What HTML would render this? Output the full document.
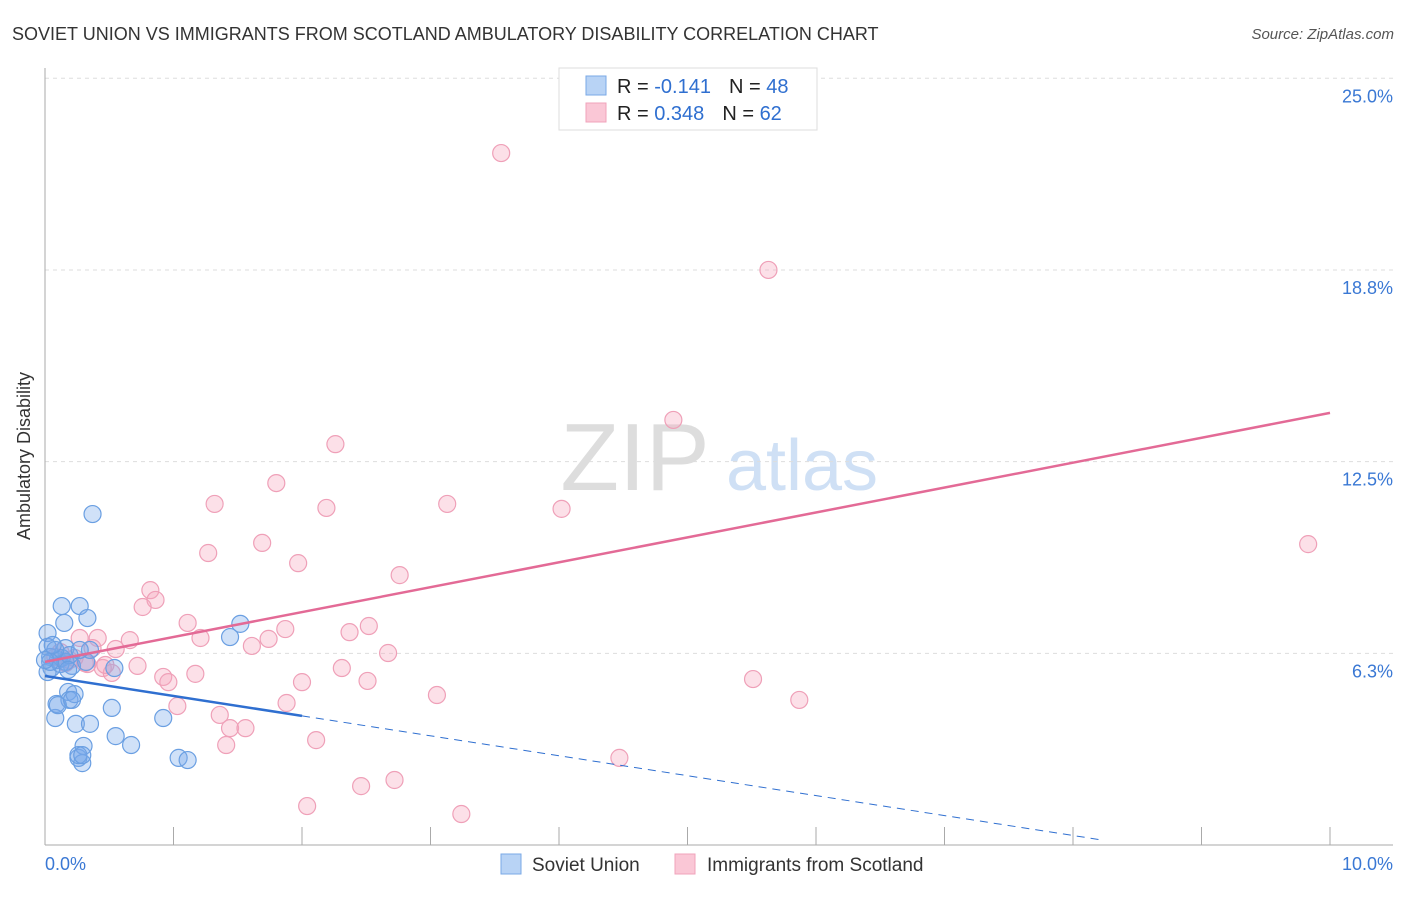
<!DOCTYPE html>
<html><head><meta charset="utf-8"><style>
body{margin:0;background:#fff;font-family:"Liberation Sans",sans-serif}
svg text{font-family:"Liberation Sans",sans-serif}
</style></head><body>
<svg id="c" width="1406" height="892" xmlns="http://www.w3.org/2000/svg">
<text x="12" y="40" font-size="18" fill="#333">SOVIET UNION VS IMMIGRANTS FROM SCOTLAND AMBULATORY DISABILITY CORRELATION CHART</text>
<text x="1394" y="39" font-size="15" fill="#555" text-anchor="end" font-style="italic">Source: ZipAtlas.com</text>
<text x="30" y="456" font-size="18" fill="#333" text-anchor="middle" transform="rotate(-90 30 456)">Ambulatory Disability</text>
<g><text x="635" y="490" font-size="96" fill="#ddd" text-anchor="middle" font-family="Liberation Serif">ZIP</text><text x="802" y="490" font-size="72" fill="#cfe0f5" text-anchor="middle">atlas</text></g>
<g id="grid"></g><g id="axes"></g><g id="pts"></g><g id="trend"></g>
<g>
<rect x="559" y="68" width="258" height="62" fill="#fff" stroke="#ddd"/>
<rect x="586" y="76" width="20" height="19" fill="#b8d3f5" stroke="#7aa8e6"/>
<rect x="586" y="103" width="20" height="19" fill="#fac7d6" stroke="#f0a3bb"/>
<text x="617" y="93" font-size="20" fill="#222">R = <tspan fill="#2f6fd0">-0.141</tspan><tspan dx="18">N = </tspan><tspan fill="#2f6fd0">48</tspan></text>
<text x="617" y="120" font-size="20" fill="#222">R = <tspan fill="#2f6fd0">0.348</tspan><tspan dx="18">N = </tspan><tspan fill="#2f6fd0">62</tspan></text>
</g>
<g>
<rect x="501" y="854" width="20" height="20" fill="#b8d3f5" stroke="#7aa8e6"/>
<text x="532" y="871" font-size="19" fill="#333">Soviet Union</text>
<rect x="675" y="854" width="20" height="20" fill="#fac7d6" stroke="#f0a3bb"/>
<text x="707" y="871" font-size="19" fill="#333">Immigrants from Scotland</text>
</g>
</svg>
<script>
const yTicks=[25,18.75,12.5,6.25];
const yTickLabels=["25.0%","18.8%","12.5%","6.3%"];
const xTicks=[0,1,2,3,4,5,6,7,8,9,10];
const blueX=[0.02,0.02,0.04,0.05,0.02,0.08,0.09,0.13,0.15,0.16,0.18,0.19,0.21,0.23,0.24,0.26,0.27,0.29,0.30,0.32,0.33,0.35,0.37,0.52,0.54,0.55,0.67,0.92,1.04,1.11,1.44,1.52,0.10,0.12,0.13,0.16,0.19,0.08,0.04,0.00,0.26,0.29,0.10,0.35,0.18,0.21,0.27,0.06];
const blueY=[6.91,6.46,6.13,5.77,5.64,4.14,4.60,7.79,7.24,6.42,4.99,4.73,5.84,4.92,3.95,2.84,7.79,2.67,3.23,5.97,7.40,3.95,10.79,4.47,5.77,3.55,3.26,4.14,2.84,2.77,6.78,7.21,6.03,5.90,6.10,5.97,6.19,6.36,5.97,6.03,2.93,2.93,4.56,6.36,5.71,4.73,6.36,6.52];
const pinkX=[3.55,5.63,4.89,2.26,1.80,1.32,2.19,3.13,4.02,9.83,1.69,1.27,1.97,2.76,0.82,0.86,0.76,1.11,2.52,1.87,2.37,1.21,0.66,0.41,0.27,1.61,1.74,2.67,0.55,0.37,0.12,0.19,0.31,0.72,0.45,0.52,2.31,1.17,0.92,0.96,2.00,2.51,5.51,3.05,5.87,1.03,1.88,1.36,1.44,1.56,1.41,2.11,4.47,2.72,2.46,2.04,3.24,0.16,0.23,0.33,0.47,0.08];
const pinkY=[22.56,18.75,13.86,13.07,11.80,11.12,10.99,11.12,10.96,9.81,9.85,9.52,9.19,8.80,8.31,7.99,7.76,7.24,7.14,7.04,6.94,6.75,6.68,6.75,6.75,6.49,6.72,6.26,6.39,6.42,6.29,6.03,5.93,5.84,5.77,5.61,5.77,5.58,5.48,5.31,5.31,5.35,5.41,4.89,4.73,4.53,4.63,4.24,3.81,3.81,3.26,3.42,2.84,2.12,1.92,1.27,1.01,5.93,6.10,5.90,5.87,6.13];
const blueTrend=[5.51,-0.65];
const pinkTrend=[5.97,0.812];
const X=v=>45+v*128.5, Y=v=>845-v*30.67;
const NS="http://www.w3.org/2000/svg";
function mk(t,a,p){const e=document.createElementNS(NS,t);for(const k in a)e.setAttribute(k,a[k]);p.appendChild(e);return e;}
const grid=document.getElementById('grid'),axes=document.getElementById('axes'),pts=document.getElementById('pts'),tr=document.getElementById('trend');
yTicks.forEach((v,i)=>{
 const l=mk('line',{x1:45,x2:1393,y1:Y(v),y2:Y(v),stroke:'#ddd','stroke-dasharray':'4,4'},grid);
 
 
 const t=mk('text',{x:1393,y:Y(v)+24,'font-size':18,fill:'#3a78d4','text-anchor':'end'},axes);t.textContent=yTickLabels[i];
 
 
});
mk('line',{x1:45,x2:45,y1:68,y2:845,stroke:'#aaa'},axes);
mk('line',{x1:45,x2:1393,y1:845,y2:845,stroke:'#aaa'},axes);
xTicks.forEach(v=>{const l=mk('line',{x1:X(v),x2:X(v),y1:827,y2:845,stroke:'#aaa'},axes);
 
 });
let t0=mk('text',{x:45,y:870,'font-size':18,fill:'#3a78d4'},axes);t0.textContent='0.0%';


let t1=mk('text',{x:1393,y:870,'font-size':18,fill:'#3a78d4','text-anchor':'end'},axes);t1.textContent='10.0%';


pinkX.forEach((x,i)=>{const c=mk('circle',{cx:X(x),cy:Y(pinkY[i]),r:8.5,fill:'rgba(246,165,190,0.35)',stroke:'#efa0b8','stroke-width':1.2},pts);
 
 });
blueX.forEach((x,i)=>{const c=mk('circle',{cx:X(x),cy:Y(blueY[i]),r:8.5,fill:'rgba(120,170,235,0.35)',stroke:'#6a9fe2','stroke-width':1.2},pts);
 
 });
const bl=v=>blueTrend[0]+blueTrend[1]*v, pl=v=>pinkTrend[0]+pinkTrend[1]*v;
let a=mk('line',{x1:X(0),y1:Y(bl(0)),x2:X(2),y2:Y(bl(2)),stroke:'#2f6fd0','stroke-width':2.5},tr);


let b=mk('line',{x1:X(2),y1:Y(bl(2)),x2:X(8.2),y2:Y(bl(8.2)),stroke:'#2f6fd0','stroke-width':1,'stroke-dasharray':'8,6'},tr);


let c=mk('line',{x1:X(0),y1:Y(pl(0)),x2:X(10),y2:Y(pl(10)),stroke:'#e36a96','stroke-width':2.5},tr);


</script>
</body></html>
